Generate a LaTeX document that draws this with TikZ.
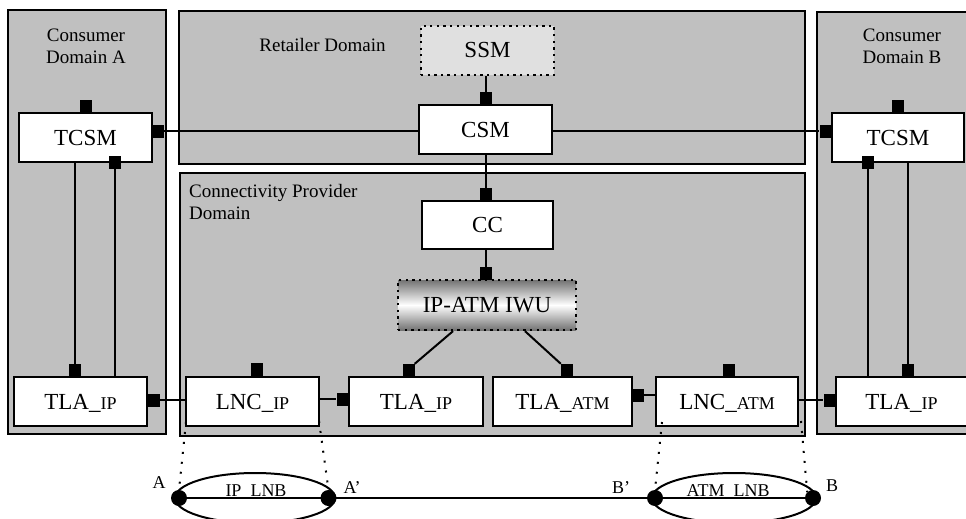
\documentclass[tikz,border=0pt]{standalone}
\usepackage{fontspec}
\setmainfont{Liberation Serif}
\usetikzlibrary{shapes.geometric}
\definecolor{dgray}{HTML}{C0C0C0}
\definecolor{lgray}{HTML}{E0E0E0}
\newcommand\smallpart[1]{{\fontsize{18}{20}\selectfont #1}}
\begin{document}
\begin{tikzpicture}[x=1pt,y=-1pt,
  domainbox/.style={draw, line width=2pt, fill=dgray, inner sep=0},
  box/.style={draw, line width=2pt, fill=white, inner sep=0, minimum height=49pt,
    text height=15pt, text depth=0pt, font=\fontsize{23}{26}\selectfont},
  port/.style={fill=black, inner sep=0, minimum width=12pt, minimum height=13pt},
  conn/.style={line width=2pt},
  dotline/.style={line width=2pt, dash pattern=on 2pt off 8pt},
  dlabel/.style={font=\fontsize{19}{22}\selectfont, inner sep=0},
  plabel/.style={font=\fontsize{18}{20}\selectfont, inner sep=0},
  pt/.style={circle, fill=black, inner sep=0, minimum size=16pt},
  lnb/.style={ellipse, draw, line width=2pt, inner sep=0, minimum height=50pt},
]
\useasboundingbox (0,0) rectangle (966,519);
\clip (0,0) rectangle (966,519);

% domains
\node[domainbox, minimum width=158pt, minimum height=424pt] (domA) at (87,222) {};
\node[domainbox, minimum width=626pt, minimum height=153pt] (retail) at (492,87.5) {};
\node[domainbox, minimum width=625pt, minimum height=263pt] (connp) at (492.5,304.5) {};
\node[domainbox, minimum width=168pt, minimum height=422pt] (domB) at (901,223) {};

\node[dlabel, align=center] (lblA) at (86,46.5) {Consumer\\Domain A};
\node[dlabel, align=center] (lblB) at (902,46.5) {Consumer\\Domain B};
\node[dlabel] (lblR) at (322.5,45) {Retailer Domain};
\node[dlabel, align=left, anchor=north west] (lblC) at (189,184.5) {Connectivity Provider\\Domain};

% boxes
\node[box, minimum width=133pt] (tcsmA) at (85.5,137.5) {TCSM};
\node[box, minimum width=132pt] (tcsmB) at (898,137.5) {TCSM};
\node[box, minimum width=133pt, fill=lgray, line width=2.3pt, dash pattern=on 2.3pt off 4.3pt] (ssm) at (487.5,50.5) {SSM};
\node[box, minimum width=133pt] (csm) at (485.5,129.5) {CSM};
\node[box, minimum width=131pt, minimum height=48pt] (cc) at (487.5,225) {CC};
\node[box, minimum width=178pt, minimum height=50pt, top color=black!55, bottom color=black!55, middle color=white, line width=2.3pt, dash pattern=on 2.3pt off 4.3pt] (iwu) at (487,305) {IP-ATM IWU};
\node[box, minimum width=133pt] (tlaA) at (80.5,401.5) {TLA\_\smallpart{IP}};
\node[box, minimum width=133pt] (lncIP) at (252.5,401.5) {LNC\_\smallpart{IP}};
\node[box, minimum width=134pt] (tlaIP) at (416,401.5) {TLA\_\smallpart{IP}};
\node[box, minimum width=139pt] (tlaATM) at (562.5,401.5) {TLA\_\smallpart{ATM}};
\node[box, minimum width=142pt] (lncATM) at (727,401.5) {LNC\_\smallpart{ATM}};
\node[box, minimum width=131pt] (tlaB) at (901.5,401.5) {TLA\_\smallpart{IP}};

% ports
\node[port] (pAt) at (86,106) {};
\node[port] (pAr) at (158,131) {};
\node[port] (pAb) at (115,162) {};
\node[port] (pBt) at (898,106) {};
\node[port] (pBl) at (825.5,131) {};
\node[port] (pBb) at (868,162) {};
\node[port] (pCsm) at (486,98.5) {};
\node[port] (pCc) at (486,194.5) {};
\node[port] (pIwu) at (486,273.5) {};
\node[port] (pTlaIPt) at (408.5,370.5) {};
\node[port] (pTlaATMt) at (567,370.5) {};
\node[port] (pTlaAt) at (75,370.5) {};
\node[port] (pTlaAr) at (153.5,400) {};
\node[port] (pTlaIPl) at (342.5,399) {};
\node[port] (pTlaATMr) at (637.5,395) {};
\node[port] (pLncIPt) at (256.5,369) {};
\node[port] (pLncATMt) at (729,370.5) {};
\node[port] (pTlaBl) at (829.5,400) {};
\node[port] (pTlaBt) at (908,370.5) {};

% connectors
\draw[conn] (pAr) -- (pAr -| csm.west);
\draw[conn] (csm.east |- pBl) -- (pBl);
\draw[conn] (ssm.south -| pCsm) -- (pCsm);
\draw[conn] (csm.south -| pCc) -- (pCc);
\draw[conn] (cc.south -| pIwu) -- (pIwu);
\draw[conn] ([xshift=-34pt]iwu.south) -- (pTlaIPt.north east);
\draw[conn] ([xshift=38pt]iwu.south) -- (pTlaATMt.north west);
\draw[conn] (pTlaAt) -- (pTlaAt |- tcsmA.south);
\draw[conn] (pAb) -- (pAb |- tlaA.north);
\draw[conn] (pBb) -- (pBb |- tlaB.north);
\draw[conn] (pTlaBt) -- (pTlaBt |- tcsmB.south);
\draw[conn] (pTlaAr) -- (pTlaAr -| lncIP.west);
\draw[conn] (lncIP.east |- pTlaIPl) -- (pTlaIPl);
\draw[conn] (pTlaATMr) -- (pTlaATMr -| lncATM.west);
\draw[conn] (lncATM.east |- pTlaBl) -- (pTlaBl);

% bottom network
\node[lnb, minimum width=160pt] (ipE) at (255,498) {};
\node[lnb, minimum width=164pt] (atmE) at (734,498) {};
\node[pt] (dA) at (179,498) {};
\node[pt] (dA2) at (328.5,498) {};
\node[pt] (dB2) at (655,498) {};
\node[pt] (dB) at (813,498) {};
\draw[conn] (dA) -- (dB);
\node[plabel, anchor=base] (ipL) at (256,496.5) {IP\_LNB};
\node[plabel, anchor=base] (atmL) at (728,496.5) {ATM\_LNB};
\node[plabel] (lA) at (159,482.5) {A};
\node[plabel] (lA2) at (352,488) {A’};
\node[plabel] (lB2) at (621,488) {B’};
\node[plabel] (lB) at (832,486) {B};

\draw[dotline] ([xshift=1pt,yshift=5pt]lncIP.south west) -- (dA.north);
\draw[dotline] ([xshift=-1pt,yshift=6pt]lncIP.south east) -- (dA2.north);
\draw[dotline] ([xshift=7pt,yshift=5pt]lncATM.south west) -- (dB2.north);
\draw[dotline] ([xshift=2pt,yshift=6pt]lncATM.south east) -- (dB.north west);
\end{tikzpicture}
\end{document}
